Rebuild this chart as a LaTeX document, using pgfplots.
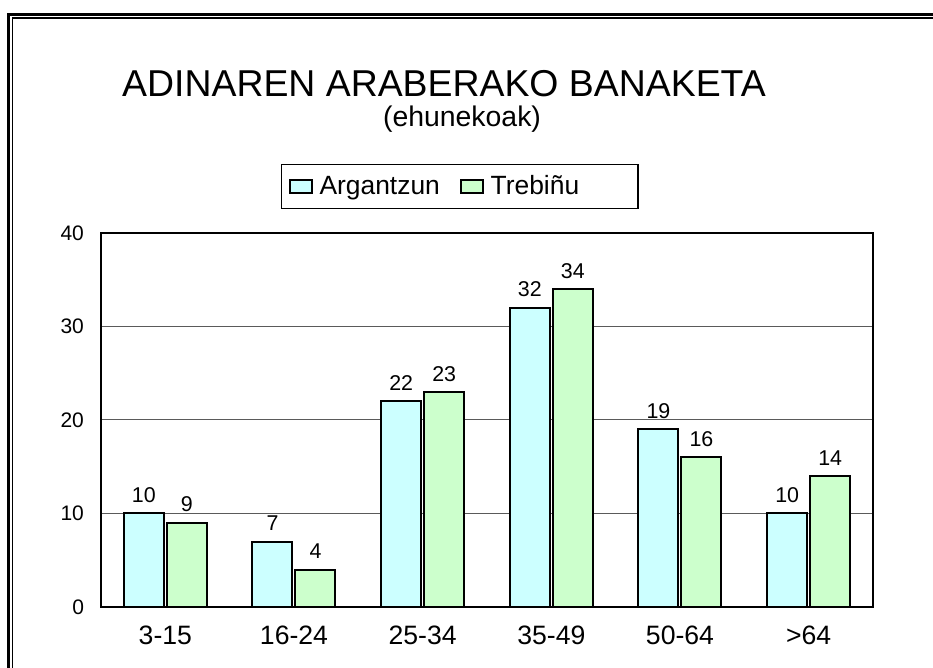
\documentclass[border=0pt]{standalone}
\usepackage{fontspec}
\setmainfont{Liberation Sans}
\usepackage{pgfplots}
\pgfplotsset{compat=1.18}
\definecolor{ArgFill}{RGB}{204,255,255}
\definecolor{TreFill}{RGB}{204,255,204}
\definecolor{GridGray}{RGB}{90,90,90}

\begin{document}
\begin{tikzpicture}
% picture is 933x668 px at 0.5pt per px
\useasboundingbox (0,0) rectangle (466.5pt,334pt);
\fill[white] (0,0) rectangle (466.5pt,334pt);
% double frame (cut at right and bottom like the original)
\draw[line width=1.5pt] (4.25pt,0) -- (4.25pt,326.75pt) -- (470pt,326.75pt);
\draw[line width=0.75pt] (6.25pt,0) -- (6.25pt,324.9pt) -- (470pt,324.9pt);

\node[font=\fontsize{18.7}{22}\selectfont, inner sep=0pt] at (222pt,292.2pt) {ADINAREN ARABERAKO BANAKETA};
\node[font=\fontsize{14.2}{17}\selectfont, inner sep=0pt] at (231pt,274.5pt) {(ehunekoak)};

\begin{axis}[
    at={(50.5pt,30.5pt)}, anchor=south west,
    scale only axis,
    width=386pt, height=187pt,
    ybar=1.5pt,
    bar width=20pt,
    xmin=-0.5, xmax=5.5,
    ymin=0, ymax=40,
    xtick=data,
    xticklabels={3-15,16-24,25-34,35-49,50-64,>64},
    ytick={0,10,20,30,40},
    major tick length=0pt,
    axis line style={line width=1pt},
    ymajorgrids=true,
    major grid style={GridGray, line width=0.5pt},
    /pgf/number format/assume math mode=true,
    yticklabel style={font=\fontsize{10.5}{12}\selectfont, xshift=-5pt},
    xticklabel style={font=\fontsize{13.3}{15}\selectfont, yshift=-6pt},
    nodes near coords,
    nodes near coords style={font=\fontsize{10.7}{12}\selectfont, yshift=1.5pt},
    legend columns=2,
    legend style={at={(0.465,1.1243)}, anchor=center, draw=black, line width=0.75pt,
        font=\fontsize{13.2}{15}\selectfont, inner xsep=3.5pt, inner ysep=3.5pt,
        /tikz/every even column/.append style={column sep=8pt}},
    legend image code/.code={\draw[#1, line width=0.9pt] (0pt,-3.2pt) rectangle (11pt,3.2pt);},
]
\addplot[fill=ArgFill, draw=black, line width=1pt]
    coordinates {(0,10) (1,7) (2,22) (3,32) (4,19) (5,10)};
\addplot[fill=TreFill, draw=black, line width=1pt]
    coordinates {(0,9) (1,4) (2,23) (3,34) (4,16) (5,14)};
\legend{\hspace*{1.5pt}Argantzun,\hspace*{1.5pt}Trebiñu\hspace*{24pt}}
\end{axis}
\end{tikzpicture}
\end{document}
